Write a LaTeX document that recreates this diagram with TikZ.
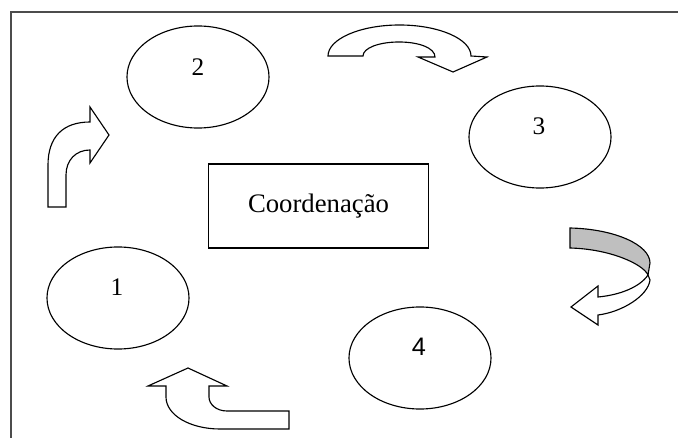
\documentclass[tikz,border=0pt]{standalone}
\usepackage{fontspec}
\setmainfont{Liberation Serif}
\newfontfamily\arialfont{Liberation Sans}
\usepackage{tikz}
\usetikzlibrary{shapes}
\usetikzlibrary{positioning}
\tikzstyle{etapa}=[ellipse,draw,line width=0.8pt,minimum width=3.55cm,minimum height=2.55cm,inner sep=0pt]
\tikzstyle{numero}=[inner sep=0pt,font=\fontsize{18}{20}\selectfont]
\tikzstyle{centro}=[rectangle,draw,line width=0.8pt,minimum width=5.52cm,minimum height=2.1cm,font=\fontsize{19}{22}\selectfont]
\tikzstyle{seta}=[draw,line width=0.8pt,fill=white,line join=miter]
\tikzstyle{marco}=[draw=black!70,line width=1.2pt]

\begin{document}
\begin{tikzpicture}[x=0.025cm,y=-0.025cm]
\useasboundingbox (0,0) rectangle (678,438);
\draw[marco] (11,438) -- (11,12) -- (678,12);
\node[centro] (coord) at (318.5,206) {Coordenação};
\node[etapa] (e1) at (118,298) {};
\node[etapa] (e2) at (198,77) {};
\node[etapa] (e3) at (540,137) {};
\node[etapa] (e4) at (420,358) {};
\node[numero] (t1) at (117,287) {1};
\node[numero] (t2) at (198,67) {2};
\node[numero] (t3) at (539,126) {3};
\node[numero,font=\arialfont\fontsize{18}{20}\selectfont] (t4) at (419,347) {4};
%setas
\draw[seta] (48,207) -- (48,165) .. controls (48,137) and (63,122) .. (90,122) -- (90,107) -- (109,135) -- (90,163) -- (90,150) .. controls (76,150) and (66,160) .. (66,175) -- (66,207) -- cycle;
\draw[seta] (328,56) .. controls (328,39) and (360,25) .. (399.5,25) .. controls (439,25) and (471,39) .. (471,56) -- (487,57) -- (453,72) -- (418,57) -- (435,57) .. controls (435,48) and (419,42) .. (399,42) .. controls (379,42) and (363,48) .. (363,56) -- cycle;
\draw[seta,fill=black!25] (570,228) .. controls (615,229) and (650,245) .. (650,263) -- (648,275) .. controls (643,264) and (610,249) .. (570,248) -- cycle;
\draw[seta] (648,275) .. controls (640,287) and (620,295) .. (598,297) -- (598,286) -- (571,307) -- (598,325) -- (598,315) .. controls (622,312) and (648,296) .. (650,280) -- cycle;
\draw[seta] (289,411) -- (227,411) .. controls (216,411) and (209,404) .. (209,397) -- (209,386) -- (227,386) -- (188,368) -- (148,386) -- (166,386) -- (166,397) .. controls (166,415) and (190,429) .. (220,429) -- (289,429) -- cycle;
\end{tikzpicture}
\end{document}
